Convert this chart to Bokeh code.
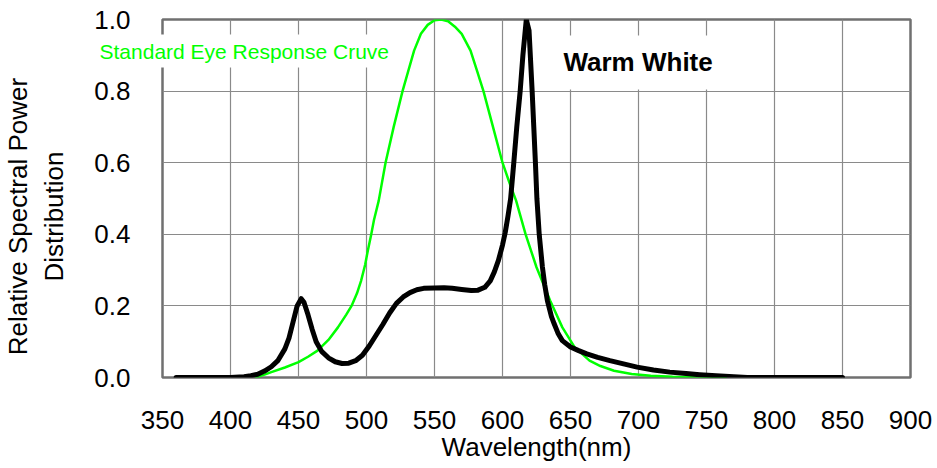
from bokeh.plotting import figure
from bokeh.models import Range1d, Label, FixedTicker, Title
from bokeh.embed import file_html
from bokeh.resources import INLINE

# Warm White spectrum
ww_nm = [360, 380, 400, 410, 415, 420, 425, 430, 435, 440, 443, 446, 449, 452, 454, 457, 460, 463, 467,
         472, 477, 482, 487, 492, 497, 502, 507, 512, 517, 522, 527, 532, 537, 542, 550, 557, 563, 570,
         577, 582, 587, 591, 594, 597, 600, 602, 604, 606, 608.3, 610.5, 613, 615, 617.5, 619.5, 621.8,
         623, 624.2, 625.3, 627, 629.3, 631, 633, 636, 638, 641, 644, 650, 656, 662, 670, 679, 689, 699,
         711, 723, 735, 745, 757, 770, 780, 800, 850]
ww_val = [0, 0, 0, 0.002, 0.005, 0.009, 0.018, 0.030, 0.048, 0.080, 0.110, 0.155, 0.200, 0.220, 0.210,
          0.175, 0.135, 0.100, 0.073, 0.055, 0.044, 0.039, 0.040, 0.047, 0.062, 0.088, 0.118, 0.148, 0.180,
          0.207, 0.225, 0.237, 0.245, 0.249, 0.250, 0.251, 0.249, 0.246, 0.243, 0.244, 0.252, 0.270, 0.295,
          0.327, 0.370, 0.405, 0.450, 0.500, 0.60, 0.70, 0.80, 0.90, 1.0, 0.97, 0.80, 0.70, 0.60, 0.50,
          0.40, 0.31, 0.26, 0.215, 0.17, 0.15, 0.122, 0.103, 0.085, 0.075, 0.066, 0.056, 0.047, 0.038,
          0.029, 0.021, 0.015, 0.011, 0.008, 0.005, 0.002, 0, 0, 0]

# Standard eye response curve
eye_nm = [418, 425, 430, 440, 450, 457, 464, 472, 479, 485, 489, 493, 496, 499, 501, 503.5, 505.5, 509,
          514, 520, 526.5, 531, 535, 540, 545, 550, 555, 560, 565, 570, 576.5, 581, 586, 593, 600, 605,
          610, 617, 625, 635, 644, 653, 664, 672, 682, 695, 709, 725, 745, 765]
eye_val = [0, 0.008, 0.015, 0.028, 0.043, 0.058, 0.075, 0.105, 0.140, 0.175, 0.200, 0.235, 0.270, 0.315,
           0.355, 0.40, 0.44, 0.494, 0.60, 0.70, 0.80, 0.86, 0.913, 0.96, 0.985, 0.998, 1.0, 0.995, 0.98,
           0.96, 0.913, 0.86, 0.80, 0.70, 0.60, 0.545, 0.494, 0.40, 0.308, 0.215, 0.14, 0.085, 0.047,
           0.032, 0.019, 0.010, 0.005, 0.002, 0.001, 0]

x_ticks = [350, 400, 450, 500, 550, 600, 650, 700, 750, 800, 850, 900]
y_ticks = [0.0, 0.2, 0.4, 0.6, 0.8, 1.0]

FONT = "'Liberation Sans', Arial, sans-serif"
NB = "\u00a0" * 5

p = figure(width=937, height=468, output_backend="svg", toolbar_location=None,
           x_range=Range1d(350, 900), y_range=Range1d(0, 1.0),
           min_border_left=161, min_border_right=27, min_border_top=19, min_border_bottom=91)
p.background_fill_color = "white"
p.border_fill_color = "white"
p.outline_line_color = "#707070"
p.outline_line_width = 2.5

p.xaxis.ticker = FixedTicker(ticks=x_ticks)
p.yaxis.ticker = FixedTicker(ticks=y_ticks)
p.yaxis.major_label_overrides = {t: f"{t:.1f}" for t in y_ticks}

for ax in (p.xaxis[0], p.yaxis[0]):
    ax.axis_line_color = None
    ax.major_tick_line_color = None
    ax.minor_tick_line_color = None
    ax.major_tick_in = 0
    ax.major_tick_out = 0
    ax.major_label_text_font = FONT
    ax.major_label_text_font_size = "26px"
    ax.major_label_text_color = "black"
    ax.axis_label_text_font = FONT
    ax.axis_label_text_font_size = "26px"
    ax.axis_label_text_font_style = "normal"
    ax.axis_label_text_color = "black"

p.xaxis.axis_label = "Wavelength(nm)"
p.xaxis.major_label_standoff = 33
p.xaxis.axis_label_standoff = 0
p.yaxis.axis_label = "Relative Spectral Power" + NB + "\nDistribution" + NB
p.yaxis.major_label_standoff = 32
p.yaxis.axis_label_standoff = 22

p.xgrid.grid_line_color = "#8a8a8a"
p.ygrid.grid_line_color = "#8a8a8a"
p.xgrid.grid_line_width = 1.2
p.ygrid.grid_line_width = 1.2

p.line(eye_nm, eye_val, line_color="#00ff00", line_width=2.5)
p.line(ww_nm, ww_val, line_color="black", line_width=5, line_cap="round", line_join="round")

eye_title = Title(text="Standard Eye Response Cruve", align="left", offset=-68, standoff=-96,
                  vertical_align="bottom", text_font=FONT, text_font_size="21px",
                  text_font_style="normal", text_color="#00ff00",
                  background_fill_color="white", padding=5)
p.add_layout(eye_title, "above")

lab2 = Label(x=636, y=0.88, text="Warm White", text_font=FONT, text_font_size="26px",
             text_font_style="bold", text_color="black", text_align="left", text_baseline="middle",
             background_fill_color="white", padding=12)
p.add_layout(lab2)

open("out.html", "w").write(file_html(p, INLINE))
